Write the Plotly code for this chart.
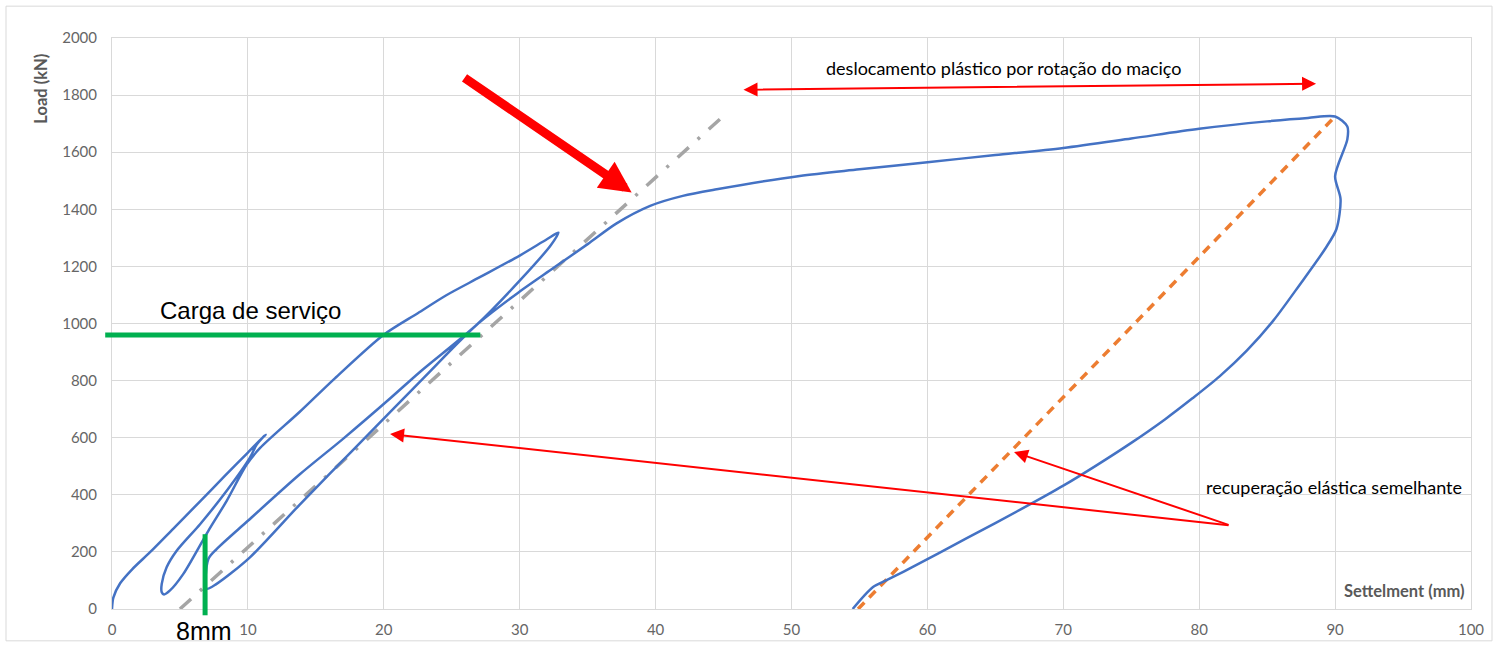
import plotly.graph_objects as go

# ---------------- data ----------------
settlement = [
    0.0, 0.1, 0.6, 1.5, 2.8, 4.5, 6.5, 8.3, 10.0, 11.3,
    10.65, 10.15, 8.44, 6.48, 4.76, 4.02, 3.66, 3.66, 3.83,
    4.27, 5.25, 7.09, 8.44, 9.91, 10.9, 13.8, 16.4, 19.95, 22.5, 24.6, 27.1, 30.0, 32.0, 32.85,
    32.3, 30.0, 26.8, 22.7, 20.5, 17.0, 13.8, 10.0, 7.7, 7.09, 6.96,
    7.7, 10.15, 13.8, 18.0, 22.9, 26.8, 30.0, 32.5, 35.0, 37.1, 39.6, 42.0, 44.5, 50.6,
    55.0, 60.0, 65.0, 70.0, 75.0, 80.0, 85.0, 88.0, 90.0,
    90.9, 90.9, 90.0, 90.4, 90.1, 89.26, 87.4, 85.45, 83.5, 81.5, 79.5, 77.5, 75.0, 72.5,
    70.0, 67.3, 62.9, 58.5, 57.0, 56.0, 54.5,
]
load = [
    0, 40, 90, 140, 199, 281, 378, 466, 548, 611,
    576, 530, 414, 297, 204, 146, 88, 59, 51,
    65, 123, 274, 379, 506, 564, 690, 808, 959, 1036, 1099, 1163, 1238, 1295, 1318,
    1275, 1150, 994, 832, 739, 596, 471, 309, 210, 175, 71,
    88, 181, 365, 570, 808, 994, 1112, 1195, 1278, 1350, 1412, 1447, 1470, 1517,
    1540, 1565, 1590, 1615, 1648, 1682, 1708, 1720, 1725,
    1690, 1645, 1516, 1436, 1331, 1261, 1136, 1010, 905, 815, 738, 665, 582, 505,
    432, 360, 248, 137, 101, 77, 0,
]

elastic_x = [54.9, 90.0]
elastic_y = [0, 1725]

stiffness_x = [5.0, 44.9]
stiffness_y = [0, 1723]

x_ticks = [0, 10, 20, 30, 40, 50, 60, 70, 80, 90, 100]
y_ticks = [0, 200, 400, 600, 800, 1000, 1200, 1400, 1600, 1800, 2000]

carga_servico = 960          # kN
carga_servico_x = [-0.5, 27.1]
recalque_8mm = 6.85          # mm
recalque_8mm_y = [-22, 262]

X_RANGE = [0, 100]
Y_RANGE = [0, 2000]


def px(x):
    return (x - X_RANGE[0]) / (X_RANGE[1] - X_RANGE[0])


def py(y):
    return (y - Y_RANGE[0]) / (Y_RANGE[1] - Y_RANGE[0])


fig = go.Figure()

fig.add_trace(go.Scatter(
    x=stiffness_x, y=stiffness_y, mode="lines",
    line=dict(color="#A5A5A5", width=3.5, dash="15px,12px,3px,12px"),
    hoverinfo="skip", showlegend=False,
))
fig.add_trace(go.Scatter(
    x=elastic_x, y=elastic_y, mode="lines",
    line=dict(color="#ED7D31", width=3.5, dash="9px,7px"),
    hoverinfo="skip", showlegend=False,
))
fig.add_trace(go.Scatter(
    x=settlement, y=load, mode="lines",
    line=dict(color="#4472C4", width=2.5, shape="spline", smoothing=0.8),
    showlegend=False,
))

# green reference lines
fig.add_shape(type="line", xref="paper", yref="paper",
              x0=px(carga_servico_x[0]), x1=px(carga_servico_x[1]),
              y0=py(carga_servico), y1=py(carga_servico),
              line=dict(color="#00B050", width=5))
fig.add_shape(type="line", xref="paper", yref="paper",
              x0=px(recalque_8mm), x1=px(recalque_8mm),
              y0=py(recalque_8mm_y[0]), y1=py(recalque_8mm_y[1]),
              line=dict(color="#00B050", width=5))

# chart border (pixel -> paper)
L, R, T, B = 112, 1471, 38, 612
def bx(p):
    return (p - L) / (R - L)
def by(p):
    return (B - p) / (B - T)
fig.add_shape(type="rect", xref="paper", yref="paper",
              x0=bx(6), x1=bx(1492), y0=by(644), y1=by(6),
              line=dict(color="#D9D9D9", width=1), layer="below")

narrow = "Liberation Sans Narrow, Arial Narrow, Liberation Sans, Arial, sans-serif"
body = "Lato, Calibri, Carlito, sans-serif"

annotations = [
    dict(x=38.24, y=1459, ax=25.83, ay=1864, xref="x", yref="y", axref="x", ayref="y",
         text="", showarrow=True, arrowhead=2, arrowsize=0.7, arrowwidth=9, arrowcolor="#FF0000"),
    dict(x=88.6, y=1840, ax=46.36, ay=1819, xref="x", yref="y", axref="x", ayref="y",
         text="", showarrow=True, arrowhead=2, arrowsize=1.4, arrowwidth=2,
         arrowside="end+start", arrowcolor="#FF0000"),
    dict(x=20.46, y=613, ax=82.27, ay=293, xref="x", yref="y", axref="x", ayref="y",
         text="", showarrow=True, arrowhead=2, arrowsize=1.4, arrowwidth=2, arrowcolor="#FF0000"),
    dict(x=66.37, y=550, ax=82.27, ay=293, xref="x", yref="y", axref="x", ayref="y",
         text="", showarrow=True, arrowhead=2, arrowsize=1.4, arrowwidth=2, arrowcolor="#FF0000"),
    dict(x=65.6, y=1895, xref="x", yref="y", showarrow=False,
         xanchor="center", yanchor="middle",
         text="deslocamento plástico por rotação do maciço",
         font=dict(family=body, size=18, color="#000000")),
    dict(x=89.9, y=429, xref="x", yref="y", showarrow=False,
         xanchor="center", yanchor="middle",
         text="recuperação elástica semelhante",
         font=dict(family=body, size=18, color="#000000")),
    dict(x=bx(250), y=by(312), xref="paper", yref="paper", showarrow=False,
         xanchor="center", yanchor="middle",
         text="Carga de serviço",
         font=dict(family=narrow, size=24, color="#000000")),
    dict(x=bx(204), y=by(634), xref="paper", yref="paper", showarrow=False,
         xanchor="center", yanchor="middle",
         text="8mm",
         font=dict(family=narrow, size=25, color="#000000")),
    dict(x=bx(41), y=by(89), xref="paper", yref="paper", showarrow=False,
         xanchor="center", yanchor="middle",
         text="<b>Load (kN)</b>", textangle=-90,
         font=dict(family=body, size=16.5, color="#595959")),
    dict(x=bx(1404), y=by(594), xref="paper", yref="paper", showarrow=False,
         xanchor="center", yanchor="middle",
         text="<b>Settelment (mm)</b>",
         font=dict(family=body, size=16.5, color="#595959")),
]

fig.update_layout(
    width=1499, height=650,
    margin=dict(l=L, r=1499 - R, t=T, b=650 - B),
    paper_bgcolor="#FFFFFF", plot_bgcolor="#FFFFFF",
    annotations=annotations,
    showlegend=False,
)
fig.update_xaxes(
    range=X_RANGE, tickvals=x_ticks, ticktext=[str(v) for v in x_ticks],
    showgrid=True, gridcolor="#D9D9D9", gridwidth=1,
    showline=True, linecolor="#D9D9D9", linewidth=1, mirror=True,
    zeroline=False, ticks="", ticklabelstandoff=7,
    tickfont=dict(family=body, size=15, color="#666666"),
)
fig.update_yaxes(
    range=Y_RANGE, tickvals=y_ticks, ticktext=[str(v) for v in y_ticks],
    showgrid=True, gridcolor="#D9D9D9", gridwidth=1,
    showline=True, linecolor="#D9D9D9", linewidth=1, mirror=True,
    zeroline=False, ticks="", ticklabelstandoff=11,
    tickfont=dict(family=body, size=15, color="#666666"),
)

fig.write_html(
    "out.html",
    config={"displayModeBar": False},
    post_script="document.body.style.margin='0';document.body.style.overflow='hidden';",
)
